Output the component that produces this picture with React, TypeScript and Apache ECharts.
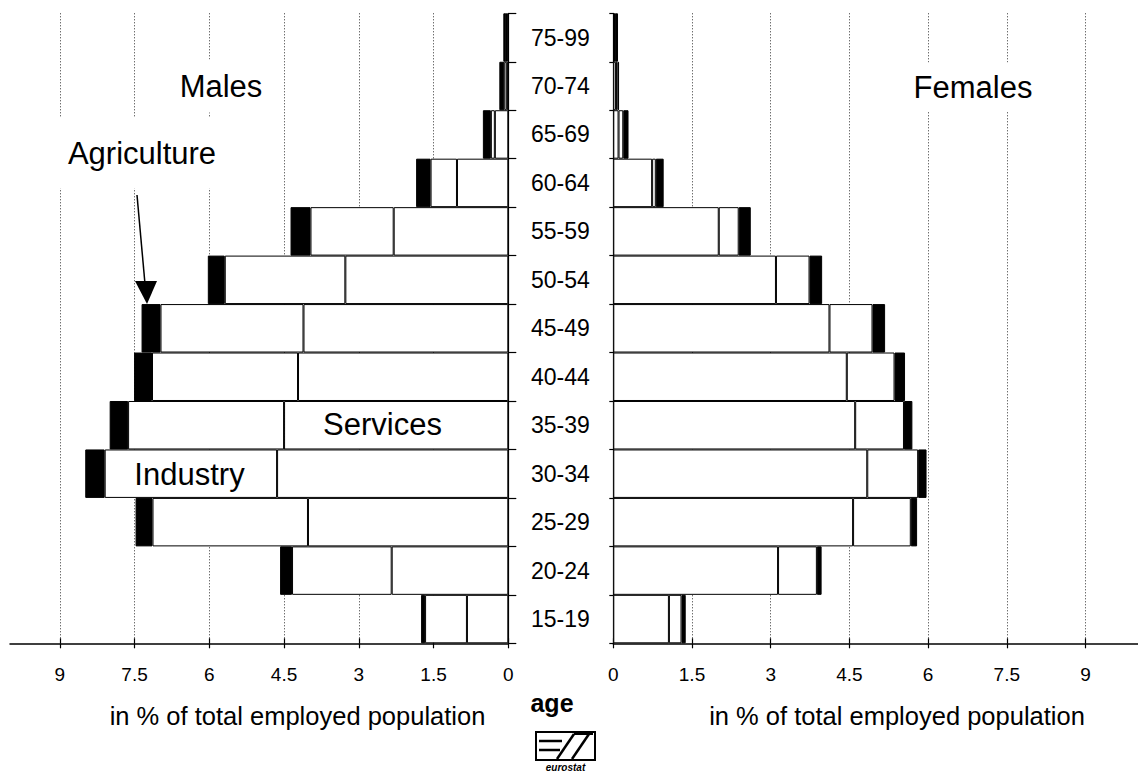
import React, { useEffect, useRef } from "react";
import * as echarts from "echarts";

const ages = ["15-19", "20-24", "25-29", "30-34", "35-39", "40-44", "45-49", "50-54", "55-59", "60-64", "65-69", "70-74", "75-99"];
const maleServices = [0.83, 2.34, 4.02, 4.64, 4.5, 4.22, 4.11, 3.27, 2.3, 1.03, 0.27, 0.03, 0.03];
const maleIndustry = [0.84, 2.0, 3.12, 3.46, 3.13, 2.93, 2.87, 2.42, 1.67, 0.53, 0.08, 0.05, 0.01];
const maleAgriculture = [0.08, 0.24, 0.34, 0.39, 0.37, 0.36, 0.38, 0.34, 0.4, 0.29, 0.16, 0.1, 0.06];
const femaleServices = [1.06, 3.14, 4.57, 4.84, 4.61, 4.45, 4.12, 3.1, 2.01, 0.74, 0.1, 0.05, 0.02];
const femaleIndustry = [0.24, 0.74, 1.1, 0.97, 0.93, 0.91, 0.82, 0.64, 0.38, 0.07, 0.09, 0.03, 0.01];
const femaleAgriculture = [0.08, 0.09, 0.12, 0.16, 0.16, 0.2, 0.24, 0.24, 0.23, 0.15, 0.1, 0.03, 0.06];
const xTicks = [0, 1.5, 3, 4.5, 6, 7.5, 9];
const axisTitle = "in % of total employed population";

const FONT = "'Liberation Sans', Arial, Helvetica, sans-serif";

export default function App() {
  const ref = useRef<HTMLDivElement>(null);

  useEffect(() => {
    if (!ref.current) return;
    const chart = echarts.init(ref.current, undefined, { renderer: "svg" });

    const valueAxis = (gridIndex: number, inverse: boolean) => ({
      type: "value",
      gridIndex,
      position: "bottom",
      min: 0,
      max: 10,
      interval: 1.5,
      inverse,
      axisLine: { show: true, lineStyle: { color: "#000", width: 1.5 } },
      axisTick: { show: true, length: 5, customValues: xTicks, lineStyle: { color: "#000", width: 1.2 } },
      axisLabel: {
        show: true,
        customValues: xTicks,
        margin: 22,
        color: "#000",
        fontSize: 19,
        fontFamily: FONT,
        formatter: (v: number) => String(v),
      },
      splitLine: {
        show: true,
        showMinLine: false,
        lineStyle: { color: "#333", width: 1, type: [1, 2] },
      },
    });
    const innerTickAxis = (gridIndex: number, inverse: boolean) => ({
      type: "value",
      gridIndex,
      position: "bottom",
      min: 0,
      max: 10,
      interval: 1.5,
      inverse,
      axisLine: { show: false },
      axisTick: { show: true, inside: true, length: 5, customValues: xTicks, lineStyle: { color: "#000", width: 1.2 } },
      axisLabel: { show: false },
      splitLine: { show: false },
    });

    const barStyle = (color: string) => ({ color, borderColor: "#000", borderWidth: 1 });

    const option = {
      animation: false,
      backgroundColor: "#fff",
      grid: [
        { left: 10, width: 498.3, top: 13.3, height: 630, containLabel: false },
        { left: 613.3, width: 526, top: 13.3, height: 630, containLabel: false },
      ],
      xAxis: [valueAxis(0, true), innerTickAxis(0, true), valueAxis(1, false), innerTickAxis(1, false)],
      yAxis: [
        {
          type: "category",
          gridIndex: 0,
          position: "right",
          data: ages,
          axisLine: { show: true, lineStyle: { color: "#000", width: 1.2 } },
          axisTick: { show: true, length: 8, lineStyle: { color: "#000", width: 1.2 } },
          axisLabel: {
            show: true,
            margin: 52,
            align: "center",
            color: "#000",
            fontSize: 23,
            fontFamily: FONT,
          },
          splitLine: { show: false },
        },
        {
          type: "category",
          gridIndex: 1,
          position: "left",
          data: ages,
          axisLine: { show: true, lineStyle: { color: "#000", width: 1.2 } },
          axisTick: { show: true, length: 4, lineStyle: { color: "#000", width: 1.2 } },
          axisLabel: { show: false },
          splitLine: { show: false },
        },
      ],
      series: [
        { name: "Services", type: "bar", stack: "m", xAxisIndex: 0, yAxisIndex: 0, barCategoryGap: "0%", data: maleServices, itemStyle: barStyle("#fff") },
        { name: "Industry", type: "bar", stack: "m", xAxisIndex: 0, yAxisIndex: 0, barCategoryGap: "0%", data: maleIndustry, itemStyle: barStyle("#fff") },
        { name: "Agriculture", type: "bar", stack: "m", xAxisIndex: 0, yAxisIndex: 0, barCategoryGap: "0%", data: maleAgriculture, itemStyle: barStyle("#000") },
        { name: "Services F", type: "bar", stack: "f", xAxisIndex: 2, yAxisIndex: 1, barCategoryGap: "0%", data: femaleServices, itemStyle: barStyle("#fff") },
        { name: "Industry F", type: "bar", stack: "f", xAxisIndex: 2, yAxisIndex: 1, barCategoryGap: "0%", data: femaleIndustry, itemStyle: barStyle("#fff") },
        { name: "Agriculture F", type: "bar", stack: "f", xAxisIndex: 2, yAxisIndex: 1, barCategoryGap: "0%", data: femaleAgriculture, itemStyle: barStyle("#000") },
      ],
      graphic: [
        {
          type: "text", x: 221, y: 86, z: 100,
          style: { text: "Males", font: `31px ${FONT}`, fill: "#000", align: "center", verticalAlign: "middle", backgroundColor: "#fff", padding: [10, 6, 12, 6] },
        },
        {
          type: "text", x: 142, y: 153, z: 100,
          style: { text: "Agriculture", font: `31px ${FONT}`, fill: "#000", align: "center", verticalAlign: "middle", backgroundColor: "#fff", padding: [20, 12, 20, 12] },
        },
        {
          type: "text", x: 973, y: 87, z: 100,
          style: { text: "Females", font: `31px ${FONT}`, fill: "#000", align: "center", verticalAlign: "middle", backgroundColor: "#fff", padding: [9, 6, 9, 6] },
        },
        {
          type: "text", x: 382.5, y: 424, z: 100,
          style: { text: "Services", font: `31px ${FONT}`, fill: "#000", align: "center", verticalAlign: "middle" },
        },
        {
          type: "text", x: 189.5, y: 474, z: 100,
          style: { text: "Industry", font: `31px ${FONT}`, fill: "#000", align: "center", verticalAlign: "middle" },
        },
        {
          type: "line", z: 100,
          shape: { x1: 137, y1: 195, x2: 145, y2: 284 },
          style: { stroke: "#000", lineWidth: 1.5 },
        },
        {
          type: "polygon", z: 100,
          shape: { points: [[135, 281], [157, 281], [147, 304]] },
          style: { fill: "#000" },
        },
        {
          type: "text", x: 297.5, y: 716, z: 100,
          style: { text: axisTitle, font: `25.5px ${FONT}`, fill: "#000", align: "center", verticalAlign: "middle" },
        },
        {
          type: "text", x: 897, y: 716, z: 100,
          style: { text: axisTitle, font: `25.5px ${FONT}`, fill: "#000", align: "center", verticalAlign: "middle" },
        },
        {
          type: "text", x: 552, y: 703, z: 100,
          style: { text: "age", font: `bold 25px ${FONT}`, fill: "#000", align: "center", verticalAlign: "middle" },
        },
        {
          type: "group", z: 100,
          children: [
            { type: "rect", shape: { x: 536, y: 732, width: 59, height: 28 }, style: { fill: "#fff", stroke: "#000", lineWidth: 2 } },
            { type: "line", shape: { x1: 539, y1: 741, x2: 562, y2: 741 }, style: { stroke: "#000", lineWidth: 2.5 } },
            { type: "line", shape: { x1: 539, y1: 750, x2: 560, y2: 750 }, style: { stroke: "#000", lineWidth: 2.5 } },
            { type: "line", shape: { x1: 557, y1: 759, x2: 574, y2: 734 }, style: { stroke: "#000", lineWidth: 2.5 } },
            { type: "line", shape: { x1: 572, y1: 759, x2: 589, y2: 734 }, style: { stroke: "#000", lineWidth: 2.5 } },
            { type: "line", shape: { x1: 574, y1: 734, x2: 593, y2: 734 }, style: { stroke: "#000", lineWidth: 2 } },
            {
              type: "text", x: 565.5, y: 767,
              style: { text: "eurostat", font: `italic bold 10px ${FONT}`, fill: "#000", align: "center", verticalAlign: "middle" },
            },
          ],
        },
      ],
    };

    chart.setOption(option as any);
    return () => chart.dispose();
  }, []);

  return (
    <div
      ref={ref}
      style={{ position: "absolute", left: 0, top: 0, width: 1138, height: 773, background: "#fff" }}
    />
  );
}
